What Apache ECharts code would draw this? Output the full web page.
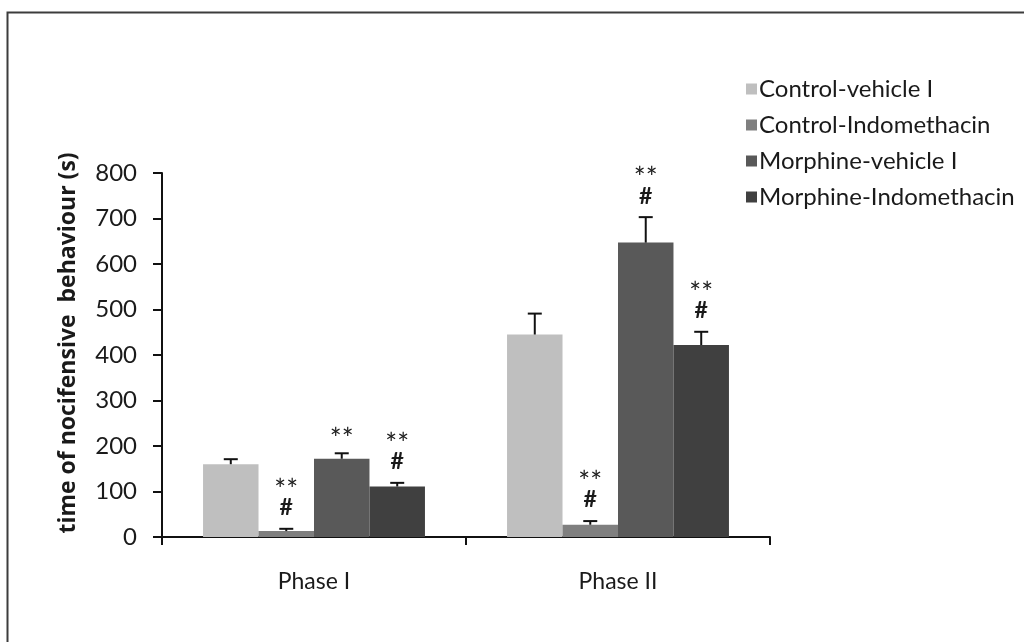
<!DOCTYPE html>
<html>
<head>
<meta charset="utf-8">
<title>Nocifensive behaviour</title>
<script src="https://cdn.jsdelivr.net/npm/echarts@6/dist/echarts.min.js"></script>
<style>
  html, body { margin: 0; padding: 0; background: #ffffff; }
  #chart { width: 1024px; height: 642px; }
</style>
</head>
<body>
<div id="chart"></div>
<script>
// Phases of the formalin test
const categories = ['Phase I', 'Phase II'];

// Group names (legend order)
const groupNames = ['Control-vehicle I', 'Control-Indomethacin', 'Morphine-vehicle I', 'Morphine-Indomethacin'];

// Mean time of nocifensive behaviour (s), per phase
const controlVehicle = [160, 445];
const controlIndomethacin = [13, 27];
const morphineVehicle = [172, 647];
const morphineIndomethacin = [111, 422];

// Standard errors
const controlVehicleErr = [11, 46];
const controlIndomethacinErr = [5, 8];
const morphineVehicleErr = [12, 56];
const morphineIndomethacinErr = [8, 29];

// Significance marks above each bar (lines stacked top to bottom)
const controlVehicleMarks = ['', ''];
const controlIndomethacinMarks = ['**\n#', '**\n#'];
const morphineVehicleMarks = ['**', '**\n#'];
const morphineIndomethacinMarks = ['**\n#', '**\n#'];

// Y axis ticks and title
const yMin = 0, yMax = 800, yStep = 100;
const yTitle = 'time of nocifensive  behaviour (s)';

const colors = ['#bfbfbf', '#7f7f7f', '#595959', '#404040'];
const FONT = 'Lato, "Open Sans", sans-serif';
const TEXT = '#1a1a1a';
const CAT_GAP = 0.27;

const means = [controlVehicle, controlIndomethacin, morphineVehicle, morphineIndomethacin];
const errs = [controlVehicleErr, controlIndomethacinErr, morphineVehicleErr, morphineIndomethacinErr];
const marks = [controlVehicleMarks, controlIndomethacinMarks, morphineVehicleMarks, morphineIndomethacinMarks];

const barSeries = groupNames.map((name, k) => ({
  name: name,
  type: 'bar',
  data: means[k],
  barGap: '0%',
  barCategoryGap: (CAT_GAP * 100) + '%',
  itemStyle: { color: colors[k] },
  z: 2
}));

// Error bars and significance marks, positioned over the matching bar
const errorSeries = groupNames.map((name, k) => ({
  type: 'custom',
  name: name + ' error',
  z: 3,
  silent: true,
  encode: { x: 0, y: 1 },
  data: categories.map((c, i) => [i, means[k][i], errs[k][i], i]),
  renderItem: function (params, api) {
    const cat = api.value(0);
    const val = api.value(1);
    const err = api.value(2);
    const idx = api.value(3);
    const bandW = api.size([1, 0])[0];
    const barW = bandW * (1 - CAT_GAP) / groupNames.length;
    const cx = api.coord([cat, 0])[0] + (k - (groupNames.length - 1) / 2) * barW;
    const yTop = api.coord([cat, val])[1];
    const yErr = api.coord([cat, val + err])[1];
    const cap = 7;
    const children = [
      { type: 'line', shape: { x1: cx, y1: yTop, x2: cx, y2: yErr }, style: { stroke: '#111', lineWidth: 2 } },
      { type: 'line', shape: { x1: cx - cap, y1: yErr, x2: cx + cap, y2: yErr }, style: { stroke: '#111', lineWidth: 2 } }
    ];
    const m = marks[k][idx];
    if (m) {
      const lines = m.split('\n');
      let y = yErr - 21;
      for (let j = lines.length - 1; j >= 0; j--) {
        const isStar = lines[j].indexOf('*') >= 0;
        children.push({
          type: 'text',
          style: {
            text: lines[j],
            x: cx,
            y: isStar ? y + 8 : y,
            align: 'center',
            verticalAlign: 'middle',
            fontFamily: FONT,
            fontSize: isStar ? 28 : 23,
            fontWeight: isStar ? 'normal' : 'bold',
            fill: TEXT
          }
        });
        y -= 25;
      }
    }
    return { type: 'group', children: children };
  }
}));

const chart = echarts.init(document.getElementById('chart'), null, { renderer: 'canvas' });
chart.setOption({
  backgroundColor: '#ffffff',
  animation: false,
  textStyle: { fontFamily: FONT, color: TEXT },
  grid: { left: 162, top: 173, right: 254, bottom: 105, containLabel: false },
  legend: {
    data: groupNames,
    orient: 'vertical',
    left: 741,
    top: 72,
    icon: 'rect',
    itemWidth: 11,
    itemHeight: 11,
    itemGap: 12,
    textStyle: { fontFamily: FONT, fontSize: 24, color: TEXT, padding: [0, 0, 0, -3] }
  },
  xAxis: {
    type: 'category',
    data: categories,
    axisLine: { lineStyle: { color: '#111', width: 2 } },
    axisTick: { show: true, alignWithLabel: false, length: 8, lineStyle: { color: '#111', width: 2 } },
    axisLabel: { margin: 33, fontFamily: FONT, fontSize: 23, color: TEXT },
    splitLine: { show: false }
  },
  yAxis: {
    type: 'value',
    min: yMin,
    max: yMax,
    interval: yStep,
    axisLine: { show: true, lineStyle: { color: '#111', width: 2 } },
    axisTick: { show: true, length: 9, lineStyle: { color: '#111', width: 2 } },
    axisLabel: { margin: 25, fontFamily: FONT, fontSize: 24, color: TEXT },
    splitLine: { show: false }
  },
  graphic: [
    {
      type: 'rect',
      shape: { x: 7.5, y: 12.5, width: 1100, height: 700 },
      style: { fill: 'none', stroke: '#3c3c3c', lineWidth: 2 },
      silent: true,
      z: 0
    },
    {
      // rotated y-axis title
      type: 'text',
      x: 68,
      y: 343,
      rotation: Math.PI / 2,
      style: {
        text: yTitle,
        align: 'center',
        verticalAlign: 'middle',
        fontFamily: '"Open Sans", Lato, sans-serif',
        fontSize: 23,
        fontWeight: 700,
        fill: TEXT
      },
      silent: true
    }
  ],
  series: barSeries.concat(errorSeries)
});
</script>
</body>
</html>
